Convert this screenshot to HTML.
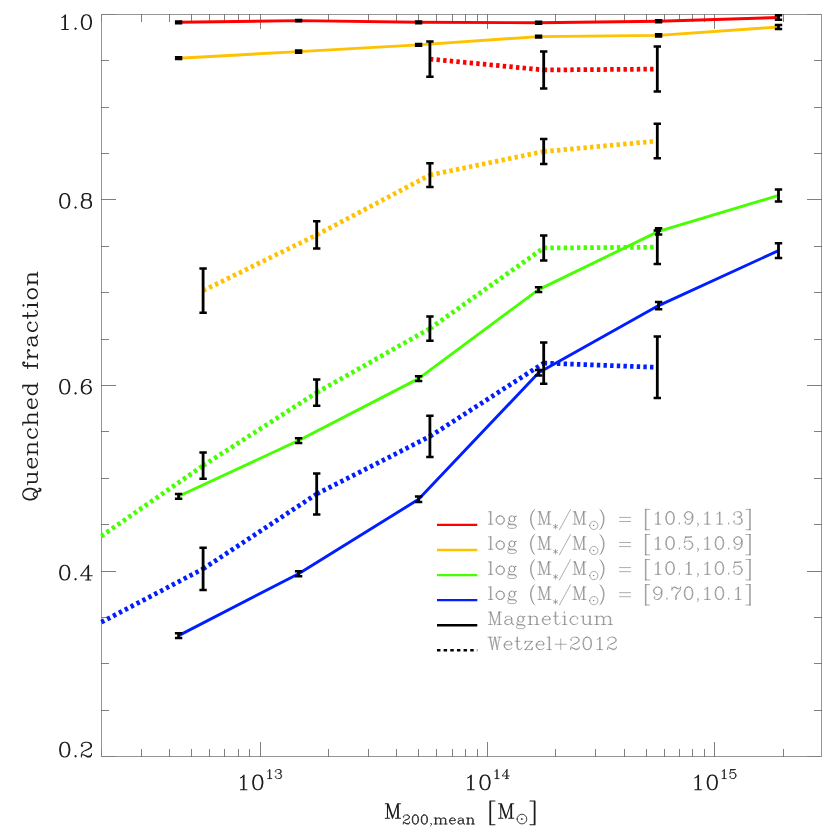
<!DOCTYPE html>
<html><head><meta charset="utf-8"><title>Quenched fraction</title>
<style>html,body{margin:0;padding:0;background:#fff;font-family:"Liberation Sans",sans-serif}svg{display:block}</style></head>
<body>
<svg width="830" height="830" viewBox="0 0 830 830">
<rect width="830" height="830" fill="#fff"/>
<path d="M101.50 14.50 H821.50 V756.50 H101.50 Z" fill="none" stroke="#000" stroke-width="0.42"/>
<path d="M141.50 756.50 v-7.50 M141.50 14.50 v7.50 M169.50 756.50 v-7.50 M169.50 14.50 v7.50 M191.50 756.50 v-7.50 M191.50 14.50 v7.50 M209.50 756.50 v-7.50 M209.50 14.50 v7.50 M224.50 756.50 v-7.50 M224.50 14.50 v7.50 M238.50 756.50 v-7.50 M238.50 14.50 v7.50 M249.50 756.50 v-7.50 M249.50 14.50 v7.50 M260.50 756.50 v-14.50 M260.50 14.50 v14.50 M328.50 756.50 v-7.50 M328.50 14.50 v7.50 M368.50 756.50 v-7.50 M368.50 14.50 v7.50 M396.50 756.50 v-7.50 M396.50 14.50 v7.50 M418.50 756.50 v-7.50 M418.50 14.50 v7.50 M436.50 756.50 v-7.50 M436.50 14.50 v7.50 M452.50 756.50 v-7.50 M452.50 14.50 v7.50 M465.50 756.50 v-7.50 M465.50 14.50 v7.50 M477.50 756.50 v-7.50 M477.50 14.50 v7.50 M487.50 756.50 v-14.50 M487.50 14.50 v14.50 M555.50 756.50 v-7.50 M555.50 14.50 v7.50 M595.50 756.50 v-7.50 M595.50 14.50 v7.50 M624.50 756.50 v-7.50 M624.50 14.50 v7.50 M646.50 756.50 v-7.50 M646.50 14.50 v7.50 M664.50 756.50 v-7.50 M664.50 14.50 v7.50 M679.50 756.50 v-7.50 M679.50 14.50 v7.50 M692.50 756.50 v-7.50 M692.50 14.50 v7.50 M704.50 756.50 v-7.50 M704.50 14.50 v7.50 M714.50 756.50 v-14.50 M714.50 14.50 v14.50 M783.50 756.50 v-7.50 M783.50 14.50 v7.50 M101.50 710.50 h7.50 M821.50 710.50 h-7.50 M101.50 663.50 h7.50 M821.50 663.50 h-7.50 M101.50 617.50 h7.50 M821.50 617.50 h-7.50 M101.50 571.50 h14.50 M821.50 571.50 h-14.50 M101.50 524.50 h7.50 M821.50 524.50 h-7.50 M101.50 478.50 h7.50 M821.50 478.50 h-7.50 M101.50 431.50 h7.50 M821.50 431.50 h-7.50 M101.50 385.50 h14.50 M821.50 385.50 h-14.50 M101.50 339.50 h7.50 M821.50 339.50 h-7.50 M101.50 292.50 h7.50 M821.50 292.50 h-7.50 M101.50 246.50 h7.50 M821.50 246.50 h-7.50 M101.50 199.50 h14.50 M821.50 199.50 h-14.50 M101.50 153.50 h7.50 M821.50 153.50 h-7.50 M101.50 107.50 h7.50 M821.50 107.50 h-7.50 M101.50 60.50 h7.50 M821.50 60.50 h-7.50" fill="none" stroke="#000" stroke-width="0.5"/>
<path d="M101.50 756.50 v-7.50 M101.50 14.50 v7.50 M101.50 756.50 h14.50 M821.50 756.50 h-14.50 M101.50 14.50 h14.50 M821.50 14.50 h-14.50" fill="none" stroke="#000" stroke-width="0.14"/>
<defs><clipPath id="c"><rect x="100.3" y="14.50" width="721.20" height="742.00"/></clipPath></defs>
<g clip-path="url(#c)" fill="none">
<polyline points="178.60,22.30 298.60,20.60 418.60,22.30 538.60,22.70 658.60,21.30 778.50,17.50" stroke="#ff0000" stroke-width="2.9" stroke-linejoin="round"/>
<polyline points="178.60,58.20 298.60,51.60 418.60,44.90 538.60,36.60 658.60,35.40 778.50,27.00" stroke="#ffc200" stroke-width="2.9" stroke-linejoin="round"/>
<polyline points="178.60,496.30 298.60,440.55 418.60,378.60 538.60,289.60 658.60,231.40 778.50,195.45" stroke="#46ff00" stroke-width="2.9" stroke-linejoin="round"/>
<polyline points="178.60,635.60 298.60,573.75 418.60,499.30 538.60,372.80 658.60,305.60 778.50,250.60" stroke="#001eff" stroke-width="2.9" stroke-linejoin="round"/>
<line x1="429.90" y1="59.05" x2="543.70" y2="69.95" stroke="#ff0000" stroke-width="4.75" stroke-dasharray="3.4 3.25"/>
<line x1="543.70" y1="69.95" x2="657.30" y2="69.10" stroke="#ff0000" stroke-width="4.75" stroke-dasharray="3.4 3.25"/>
<line x1="203.10" y1="290.60" x2="316.70" y2="234.90" stroke="#ffc200" stroke-width="4.75" stroke-dasharray="3.4 3.25"/>
<line x1="316.70" y1="234.90" x2="429.90" y2="175.05" stroke="#ffc200" stroke-width="4.75" stroke-dasharray="3.4 3.25"/>
<line x1="429.90" y1="175.05" x2="543.70" y2="151.55" stroke="#ffc200" stroke-width="4.75" stroke-dasharray="3.4 3.25"/>
<line x1="543.70" y1="151.55" x2="657.30" y2="141.05" stroke="#ffc200" stroke-width="4.75" stroke-dasharray="3.4 3.25"/>
<line x1="90.20" y1="543.80" x2="203.10" y2="465.65" stroke="#46ff00" stroke-width="4.75" stroke-dasharray="3.4 3.25"/>
<line x1="203.10" y1="465.65" x2="316.70" y2="392.60" stroke="#46ff00" stroke-width="4.75" stroke-dasharray="3.4 3.25"/>
<line x1="316.70" y1="392.60" x2="429.90" y2="328.55" stroke="#46ff00" stroke-width="4.75" stroke-dasharray="3.4 3.25"/>
<line x1="429.90" y1="328.55" x2="543.70" y2="247.95" stroke="#46ff00" stroke-width="4.75" stroke-dasharray="3.4 3.25"/>
<line x1="543.70" y1="247.95" x2="657.30" y2="247.20" stroke="#46ff00" stroke-width="4.75" stroke-dasharray="3.4 3.25"/>
<line x1="89.50" y1="628.40" x2="203.10" y2="568.85" stroke="#001eff" stroke-width="4.75" stroke-dasharray="3.4 3.25"/>
<line x1="203.10" y1="568.85" x2="316.70" y2="494.00" stroke="#001eff" stroke-width="4.75" stroke-dasharray="3.4 3.25"/>
<line x1="316.70" y1="494.00" x2="429.90" y2="436.40" stroke="#001eff" stroke-width="4.75" stroke-dasharray="3.4 3.25"/>
<line x1="429.90" y1="436.40" x2="543.70" y2="363.10" stroke="#001eff" stroke-width="4.75" stroke-dasharray="3.4 3.25"/>
<line x1="543.70" y1="363.10" x2="657.30" y2="367.30" stroke="#001eff" stroke-width="4.75" stroke-dasharray="3.4 3.25"/>
</g>
<path d="M178.60 21.45 V23.15 M298.60 20.00 V21.20 M418.60 21.45 V23.15 M538.60 21.65 V23.75 M658.60 20.25 V22.35 M778.50 15.30 V19.70 M429.90 41.40 V76.70 M543.70 51.50 V88.40 M657.30 46.60 V91.60 M178.60 57.35 V59.05 M298.60 50.55 V52.65 M418.60 43.95 V45.85 M538.60 35.70 V37.50 M658.60 34.20 V36.60 M778.50 24.90 V29.10 M203.10 268.50 V312.70 M316.70 221.25 V248.55 M429.90 163.20 V186.90 M543.70 139.00 V164.10 M657.30 123.80 V158.30 M178.60 493.95 V498.65 M298.60 438.20 V442.90 M418.60 376.25 V380.95 M538.60 287.30 V291.90 M658.60 228.20 V234.60 M778.50 189.40 V201.50 M203.10 452.60 V478.70 M316.70 379.50 V405.70 M429.90 316.40 V340.70 M543.70 235.40 V260.50 M657.30 230.40 V264.00 M178.60 633.20 V638.00 M298.60 571.30 V576.20 M418.60 496.50 V502.10 M538.60 370.10 V375.50 M658.60 301.90 V309.30 M778.50 243.30 V257.90 M203.10 547.80 V589.90 M316.70 473.60 V514.40 M429.90 415.70 V457.10 M543.70 342.40 V383.80 M657.30 336.60 V398.00" fill="none" stroke="#000" stroke-width="2.8"/>
<path d="M174.90 21.45 h7.4 M174.90 23.15 h7.4 M294.90 20.00 h7.4 M294.90 21.20 h7.4 M414.90 21.45 h7.4 M414.90 23.15 h7.4 M534.90 21.65 h7.4 M534.90 23.75 h7.4 M654.90 20.25 h7.4 M654.90 22.35 h7.4 M774.80 15.30 h7.4 M774.80 19.70 h7.4 M426.20 41.40 h7.4 M426.20 76.70 h7.4 M540.00 51.50 h7.4 M540.00 88.40 h7.4 M653.60 46.60 h7.4 M653.60 91.60 h7.4 M174.90 57.35 h7.4 M174.90 59.05 h7.4 M294.90 50.55 h7.4 M294.90 52.65 h7.4 M414.90 43.95 h7.4 M414.90 45.85 h7.4 M534.90 35.70 h7.4 M534.90 37.50 h7.4 M654.90 34.20 h7.4 M654.90 36.60 h7.4 M774.80 24.90 h7.4 M774.80 29.10 h7.4 M199.40 268.50 h7.4 M199.40 312.70 h7.4 M313.00 221.25 h7.4 M313.00 248.55 h7.4 M426.20 163.20 h7.4 M426.20 186.90 h7.4 M540.00 139.00 h7.4 M540.00 164.10 h7.4 M653.60 123.80 h7.4 M653.60 158.30 h7.4 M174.90 493.95 h7.4 M174.90 498.65 h7.4 M294.90 438.20 h7.4 M294.90 442.90 h7.4 M414.90 376.25 h7.4 M414.90 380.95 h7.4 M534.90 287.30 h7.4 M534.90 291.90 h7.4 M654.90 228.20 h7.4 M654.90 234.60 h7.4 M774.80 189.40 h7.4 M774.80 201.50 h7.4 M199.40 452.60 h7.4 M199.40 478.70 h7.4 M313.00 379.50 h7.4 M313.00 405.70 h7.4 M426.20 316.40 h7.4 M426.20 340.70 h7.4 M540.00 235.40 h7.4 M540.00 260.50 h7.4 M653.60 230.40 h7.4 M653.60 264.00 h7.4 M174.90 633.20 h7.4 M174.90 638.00 h7.4 M294.90 571.30 h7.4 M294.90 576.20 h7.4 M414.90 496.50 h7.4 M414.90 502.10 h7.4 M534.90 370.10 h7.4 M534.90 375.50 h7.4 M654.90 301.90 h7.4 M654.90 309.30 h7.4 M774.80 243.30 h7.4 M774.80 257.90 h7.4 M199.40 547.80 h7.4 M199.40 589.90 h7.4 M313.00 473.60 h7.4 M313.00 514.40 h7.4 M426.20 415.70 h7.4 M426.20 457.10 h7.4 M540.00 342.40 h7.4 M540.00 383.80 h7.4 M653.60 336.60 h7.4 M653.60 398.00 h7.4" fill="none" stroke="#000" stroke-width="2.5"/>
<line x1="437" y1="524.90" x2="477.3" y2="524.90" stroke="#ff0000" stroke-width="2.35"/>
<line x1="437" y1="549.98" x2="477.3" y2="549.98" stroke="#ffc200" stroke-width="2.35"/>
<line x1="437" y1="575.06" x2="477.3" y2="575.06" stroke="#46ff00" stroke-width="2.35"/>
<line x1="437" y1="600.14" x2="477.3" y2="600.14" stroke="#001eff" stroke-width="2.35"/>
<line x1="437" y1="625.22" x2="477.3" y2="625.22" stroke="#000" stroke-width="2.35"/>
<line x1="437" y1="650.30" x2="477.3" y2="650.30" stroke="#000" stroke-width="2.5" stroke-dasharray="3.45 3.2"/>
<path d="M61.84 17.60 L63.28 16.91 L65.45 14.82 L65.45 29.40 M64.73 15.52 L64.73 29.40 M61.84 29.40 L68.34 29.40 M75.57 28.01 L74.85 28.71 L75.57 29.40 L76.30 28.71 L75.57 28.01 M85.70 14.82 L83.53 15.52 L82.08 17.60 L81.36 21.07 L81.36 23.15 L82.08 26.62 L83.53 28.71 L85.70 29.40 L87.14 29.40 L89.31 28.71 L90.76 26.62 L91.48 23.15 L91.48 21.07 L90.76 17.60 L89.31 15.52 L87.14 14.82 L85.70 14.82 M85.70 14.82 L84.25 15.52 L83.53 16.21 L82.80 17.60 L82.08 21.07 L82.08 23.15 L82.80 26.62 L83.53 28.01 L84.25 28.71 L85.70 29.40 M87.14 29.40 L88.59 28.71 L89.31 28.01 L90.03 26.62 L90.76 23.15 L90.76 21.07 L90.03 17.60 L89.31 16.21 L88.59 15.52 L87.14 14.82 M64.01 193.62 L61.84 194.32 L60.39 196.40 L59.67 199.87 L59.67 201.95 L60.39 205.42 L61.84 207.51 L64.01 208.20 L65.45 208.20 L67.62 207.51 L69.07 205.42 L69.79 201.95 L69.79 199.87 L69.07 196.40 L67.62 194.32 L65.45 193.62 L64.01 193.62 M64.01 193.62 L62.56 194.32 L61.84 195.01 L61.12 196.40 L60.39 199.87 L60.39 201.95 L61.12 205.42 L61.84 206.81 L62.56 207.51 L64.01 208.20 M65.45 208.20 L66.90 207.51 L67.62 206.81 L68.34 205.42 L69.07 201.95 L69.07 199.87 L68.34 196.40 L67.62 195.01 L66.90 194.32 L65.45 193.62 M75.57 206.81 L74.85 207.51 L75.57 208.20 L76.30 207.51 L75.57 206.81 M84.97 193.62 L82.80 194.32 L82.08 195.71 L82.08 197.79 L82.80 199.18 L84.97 199.87 L87.87 199.87 L90.03 199.18 L90.76 197.79 L90.76 195.71 L90.03 194.32 L87.87 193.62 L84.97 193.62 M84.97 193.62 L83.53 194.32 L82.80 195.71 L82.80 197.79 L83.53 199.18 L84.97 199.87 M87.87 199.87 L89.31 199.18 L90.03 197.79 L90.03 195.71 L89.31 194.32 L87.87 193.62 M84.97 199.87 L82.80 200.57 L82.08 201.26 L81.36 202.65 L81.36 205.42 L82.08 206.81 L82.80 207.51 L84.97 208.20 L87.87 208.20 L90.03 207.51 L90.76 206.81 L91.48 205.42 L91.48 202.65 L90.76 201.26 L90.03 200.57 L87.87 199.87 M84.97 199.87 L83.53 200.57 L82.80 201.26 L82.08 202.65 L82.08 205.42 L82.80 206.81 L83.53 207.51 L84.97 208.20 M87.87 208.20 L89.31 207.51 L90.03 206.81 L90.76 205.42 L90.76 202.65 L90.03 201.26 L89.31 200.57 L87.87 199.87 M64.01 379.42 L61.84 380.12 L60.39 382.20 L59.67 385.67 L59.67 387.75 L60.39 391.22 L61.84 393.31 L64.01 394.00 L65.45 394.00 L67.62 393.31 L69.07 391.22 L69.79 387.75 L69.79 385.67 L69.07 382.20 L67.62 380.12 L65.45 379.42 L64.01 379.42 M64.01 379.42 L62.56 380.12 L61.84 380.81 L61.12 382.20 L60.39 385.67 L60.39 387.75 L61.12 391.22 L61.84 392.61 L62.56 393.31 L64.01 394.00 M65.45 394.00 L66.90 393.31 L67.62 392.61 L68.34 391.22 L69.07 387.75 L69.07 385.67 L68.34 382.20 L67.62 380.81 L66.90 380.12 L65.45 379.42 M75.57 392.61 L74.85 393.31 L75.57 394.00 L76.30 393.31 L75.57 392.61 M90.03 381.51 L89.31 382.20 L90.03 382.89 L90.76 382.20 L90.76 381.51 L90.03 380.12 L88.59 379.42 L86.42 379.42 L84.25 380.12 L82.80 381.51 L82.08 382.89 L81.36 385.67 L81.36 389.84 L82.08 391.92 L83.53 393.31 L85.70 394.00 L87.14 394.00 L89.31 393.31 L90.76 391.92 L91.48 389.84 L91.48 389.14 L90.76 387.06 L89.31 385.67 L87.14 384.98 L86.42 384.98 L84.25 385.67 L82.80 387.06 L82.08 389.14 M86.42 379.42 L84.97 380.12 L83.53 381.51 L82.80 382.89 L82.08 385.67 L82.08 389.84 L82.80 391.92 L84.25 393.31 L85.70 394.00 M87.14 394.00 L88.59 393.31 L90.03 391.92 L90.76 389.84 L90.76 389.14 L90.03 387.06 L88.59 385.67 L87.14 384.98 M64.01 565.32 L61.84 566.02 L60.39 568.10 L59.67 571.57 L59.67 573.65 L60.39 577.12 L61.84 579.21 L64.01 579.90 L65.45 579.90 L67.62 579.21 L69.07 577.12 L69.79 573.65 L69.79 571.57 L69.07 568.10 L67.62 566.02 L65.45 565.32 L64.01 565.32 M64.01 565.32 L62.56 566.02 L61.84 566.71 L61.12 568.10 L60.39 571.57 L60.39 573.65 L61.12 577.12 L61.84 578.51 L62.56 579.21 L64.01 579.90 M65.45 579.90 L66.90 579.21 L67.62 578.51 L68.34 577.12 L69.07 573.65 L69.07 571.57 L68.34 568.10 L67.62 566.71 L66.90 566.02 L65.45 565.32 M75.57 578.51 L74.85 579.21 L75.57 579.90 L76.30 579.21 L75.57 578.51 M87.87 566.71 L87.87 579.90 M88.59 565.32 L88.59 579.90 M88.59 565.32 L80.64 575.74 L92.20 575.74 M85.70 579.90 L90.76 579.90 M64.01 742.32 L61.84 743.02 L60.39 745.10 L59.67 748.57 L59.67 750.65 L60.39 754.12 L61.84 756.21 L64.01 756.90 L65.45 756.90 L67.62 756.21 L69.07 754.12 L69.79 750.65 L69.79 748.57 L69.07 745.10 L67.62 743.02 L65.45 742.32 L64.01 742.32 M64.01 742.32 L62.56 743.02 L61.84 743.71 L61.12 745.10 L60.39 748.57 L60.39 750.65 L61.12 754.12 L61.84 755.51 L62.56 756.21 L64.01 756.90 M65.45 756.90 L66.90 756.21 L67.62 755.51 L68.34 754.12 L69.07 750.65 L69.07 748.57 L68.34 745.10 L67.62 743.71 L66.90 743.02 L65.45 742.32 M75.57 755.51 L74.85 756.21 L75.57 756.90 L76.30 756.21 L75.57 755.51 M82.08 745.10 L82.80 745.79 L82.08 746.49 L81.36 745.79 L81.36 745.10 L82.08 743.71 L82.80 743.02 L84.97 742.32 L87.87 742.32 L90.03 743.02 L90.76 743.71 L91.48 745.10 L91.48 746.49 L90.76 747.88 L88.59 749.27 L84.97 750.65 L83.53 751.35 L82.08 752.74 L81.36 754.82 L81.36 756.90 M87.87 742.32 L89.31 743.02 L90.03 743.71 L90.76 745.10 L90.76 746.49 L90.03 747.88 L87.87 749.27 L84.97 750.65 M81.36 755.51 L82.08 754.82 L83.53 754.82 L87.14 756.21 L89.31 756.21 L90.76 755.51 L91.48 754.82 M83.53 754.82 L87.14 756.90 L90.03 756.90 L90.76 756.21 L91.48 754.82 L91.48 753.43 M240.44 777.90 L241.88 777.21 L244.05 775.12 L244.05 789.70 M243.33 775.82 L243.33 789.70 M240.44 789.70 L246.94 789.70 M257.07 775.12 L254.90 775.82 L253.45 777.90 L252.73 781.37 L252.73 783.45 L253.45 786.92 L254.90 789.01 L257.07 789.70 L258.51 789.70 L260.68 789.01 L262.13 786.92 L262.85 783.45 L262.85 781.37 L262.13 777.90 L260.68 775.82 L258.51 775.12 L257.07 775.12 M257.07 775.12 L255.62 775.82 L254.90 776.51 L254.17 777.90 L253.45 781.37 L253.45 783.45 L254.17 786.92 L254.90 788.31 L255.62 789.01 L257.07 789.70 M258.51 789.70 L259.96 789.01 L260.68 788.31 L261.40 786.92 L262.13 783.45 L262.13 781.37 L261.40 777.90 L260.68 776.51 L259.96 775.82 L258.51 775.12 M467.69 777.90 L469.13 777.21 L471.30 775.12 L471.30 789.70 M470.58 775.82 L470.58 789.70 M467.69 789.70 L474.19 789.70 M484.32 775.12 L482.15 775.82 L480.70 777.90 L479.98 781.37 L479.98 783.45 L480.70 786.92 L482.15 789.01 L484.32 789.70 L485.76 789.70 L487.93 789.01 L489.38 786.92 L490.10 783.45 L490.10 781.37 L489.38 777.90 L487.93 775.82 L485.76 775.12 L484.32 775.12 M484.32 775.12 L482.87 775.82 L482.15 776.51 L481.42 777.90 L480.70 781.37 L480.70 783.45 L481.42 786.92 L482.15 788.31 L482.87 789.01 L484.32 789.70 M485.76 789.70 L487.21 789.01 L487.93 788.31 L488.65 786.92 L489.38 783.45 L489.38 781.37 L488.65 777.90 L487.93 776.51 L487.21 775.82 L485.76 775.12 M694.94 777.90 L696.38 777.21 L698.55 775.12 L698.55 789.70 M697.83 775.82 L697.83 789.70 M694.94 789.70 L701.45 789.70 M711.57 775.12 L709.40 775.82 L707.95 777.90 L707.23 781.37 L707.23 783.45 L707.95 786.92 L709.40 789.01 L711.57 789.70 L713.01 789.70 L715.18 789.01 L716.63 786.92 L717.35 783.45 L717.35 781.37 L716.63 777.90 L715.18 775.82 L713.01 775.12 L711.57 775.12 M711.57 775.12 L710.12 775.82 L709.40 776.51 L708.68 777.90 L707.95 781.37 L707.95 783.45 L708.68 786.92 L709.40 788.31 L710.12 789.01 L711.57 789.70 M713.01 789.70 L714.46 789.01 L715.18 788.31 L715.91 786.92 L716.63 783.45 L716.63 781.37 L715.91 777.90 L715.18 776.51 L714.46 775.82 L713.01 775.12 M387.47 803.72 L387.47 818.30 M388.19 803.72 L392.53 816.22 M387.47 803.72 L392.53 818.30 M397.59 803.72 L392.53 818.30 M397.59 803.72 L397.59 818.30 M398.31 803.72 L398.31 818.30 M385.30 803.72 L388.19 803.72 M397.59 803.72 L400.48 803.72 M385.30 818.30 L389.63 818.30 M395.42 818.30 L400.48 818.30 M489.90 800.95 L489.90 824.82 M490.62 800.95 L490.62 824.82 M489.90 800.95 L494.96 800.95 M489.90 824.82 L494.96 824.82 M500.74 803.72 L500.74 818.30 M501.47 803.72 L505.81 816.22 M500.74 803.72 L505.81 818.30 M510.87 803.72 L505.81 818.30 M510.87 803.72 L510.87 818.30 M511.59 803.72 L511.59 818.30 M498.58 803.72 L501.47 803.72 M510.87 803.72 L513.76 803.72 M498.58 818.30 L502.91 818.30 M508.70 818.30 L513.76 818.30 M534.26 800.95 L534.26 824.82 M534.99 800.95 L534.99 824.82 M529.92 800.95 L534.99 800.95 M529.92 824.82 L534.99 824.82" fill="none" stroke="#1c1c1c" stroke-width="1.05" stroke-linecap="round" stroke-linejoin="round"/>
<path d="M267.71 771.25 L268.61 770.82 L269.95 769.53 L269.95 778.57 M269.50 769.96 L269.50 778.57 M267.71 778.57 L271.74 778.57 M275.78 771.25 L276.23 771.68 L275.78 772.11 L275.33 771.68 L275.33 771.25 L275.78 770.39 L276.23 769.96 L277.57 769.53 L279.36 769.53 L280.71 769.96 L281.16 770.82 L281.16 772.11 L280.71 772.97 L279.36 773.40 L278.02 773.40 M279.36 769.53 L280.26 769.96 L280.71 770.82 L280.71 772.11 L280.26 772.97 L279.36 773.40 M279.36 773.40 L280.26 773.83 L281.16 774.69 L281.61 775.55 L281.61 776.84 L281.16 777.71 L280.71 778.14 L279.36 778.57 L277.57 778.57 L276.23 778.14 L275.78 777.71 L275.33 776.84 L275.33 776.41 L275.78 775.98 L276.23 776.41 L275.78 776.84 M280.71 774.26 L281.16 775.55 L281.16 776.84 L280.71 777.71 L280.26 778.14 L279.36 778.57 M494.96 771.25 L495.86 770.82 L497.20 769.53 L497.20 778.57 M496.75 769.96 L496.75 778.57 M494.96 778.57 L498.99 778.57 M506.61 770.39 L506.61 778.57 M507.06 769.53 L507.06 778.57 M507.06 769.53 L502.13 775.98 L509.30 775.98 M505.27 778.57 L508.41 778.57 M722.21 771.25 L723.11 770.82 L724.45 769.53 L724.45 778.57 M724.00 769.96 L724.00 778.57 M722.21 778.57 L726.24 778.57 M730.73 769.53 L729.83 773.83 M729.83 773.83 L730.73 772.97 L732.07 772.54 L733.42 772.54 L734.76 772.97 L735.66 773.83 L736.11 775.12 L736.11 775.98 L735.66 777.27 L734.76 778.14 L733.42 778.57 L732.07 778.57 L730.73 778.14 L730.28 777.71 L729.83 776.84 L729.83 776.41 L730.28 775.98 L730.73 776.41 L730.28 776.84 M733.42 772.54 L734.31 772.97 L735.21 773.83 L735.66 775.12 L735.66 775.98 L735.21 777.27 L734.31 778.14 L733.42 778.57 M730.73 769.53 L735.21 769.53 M730.73 769.96 L732.97 769.96 L735.21 769.53 M403.72 816.70 L404.17 817.13 L403.72 817.56 L403.27 817.13 L403.27 816.70 L403.72 815.84 L404.17 815.41 L405.51 814.97 L407.30 814.97 L408.65 815.41 L409.10 815.84 L409.55 816.70 L409.55 817.56 L409.10 818.42 L407.75 819.28 L405.51 820.14 L404.61 820.57 L403.72 821.43 L403.27 822.72 L403.27 824.01 M407.30 814.97 L408.20 815.41 L408.65 815.84 L409.10 816.70 L409.10 817.56 L408.65 818.42 L407.30 819.28 L405.51 820.14 M403.27 823.15 L403.72 822.72 L404.61 822.72 L406.86 823.58 L408.20 823.58 L409.10 823.15 L409.55 822.72 M404.61 822.72 L406.86 824.01 L408.65 824.01 L409.10 823.58 L409.55 822.72 L409.55 821.86 M414.92 814.97 L413.58 815.41 L412.68 816.70 L412.23 818.85 L412.23 820.14 L412.68 822.29 L413.58 823.58 L414.92 824.01 L415.82 824.01 L417.17 823.58 L418.06 822.29 L418.51 820.14 L418.51 818.85 L418.06 816.70 L417.17 815.41 L415.82 814.97 L414.92 814.97 M414.92 814.97 L414.03 815.41 L413.58 815.84 L413.13 816.70 L412.68 818.85 L412.68 820.14 L413.13 822.29 L413.58 823.15 L414.03 823.58 L414.92 824.01 M415.82 824.01 L416.72 823.58 L417.17 823.15 L417.61 822.29 L418.06 820.14 L418.06 818.85 L417.61 816.70 L417.17 815.84 L416.72 815.41 L415.82 814.97 M423.89 814.97 L422.54 815.41 L421.65 816.70 L421.20 818.85 L421.20 820.14 L421.65 822.29 L422.54 823.58 L423.89 824.01 L424.79 824.01 L426.13 823.58 L427.03 822.29 L427.48 820.14 L427.48 818.85 L427.03 816.70 L426.13 815.41 L424.79 814.97 L423.89 814.97 M423.89 814.97 L422.99 815.41 L422.54 815.84 L422.10 816.70 L421.65 818.85 L421.65 820.14 L422.10 822.29 L422.54 823.15 L422.99 823.58 L423.89 824.01 M424.79 824.01 L425.68 823.58 L426.13 823.15 L426.58 822.29 L427.03 820.14 L427.03 818.85 L426.58 816.70 L426.13 815.84 L425.68 815.41 L424.79 814.97 M431.06 824.01 L430.61 823.58 L431.06 823.15 L431.51 823.58 L431.51 824.44 L431.06 825.30 L430.61 825.73 M435.54 817.99 L435.54 824.01 M435.99 817.99 L435.99 824.01 M435.99 819.28 L436.89 818.42 L438.23 817.99 L439.13 817.99 L440.48 818.42 L440.92 819.28 L440.92 824.01 M439.13 817.99 L440.03 818.42 L440.48 819.28 L440.48 824.01 M440.92 819.28 L441.82 818.42 L443.16 817.99 L444.06 817.99 L445.41 818.42 L445.85 819.28 L445.85 824.01 M444.06 817.99 L444.96 818.42 L445.41 819.28 L445.41 824.01 M434.20 817.99 L435.99 817.99 M434.20 824.01 L437.34 824.01 M439.13 824.01 L442.27 824.01 M444.06 824.01 L447.20 824.01 M449.89 820.57 L455.27 820.57 L455.27 819.71 L454.82 818.85 L454.37 818.42 L453.47 817.99 L452.13 817.99 L450.79 818.42 L449.89 819.28 L449.44 820.57 L449.44 821.43 L449.89 822.72 L450.79 823.58 L452.13 824.01 L453.03 824.01 L454.37 823.58 L455.27 822.72 M454.82 820.57 L454.82 819.28 L454.37 818.42 M452.13 817.99 L451.23 818.42 L450.34 819.28 L449.89 820.57 L449.89 821.43 L450.34 822.72 L451.23 823.58 L452.13 824.01 M458.85 818.85 L458.85 819.28 L458.41 819.28 L458.41 818.85 L458.85 818.42 L459.75 817.99 L461.54 817.99 L462.44 818.42 L462.89 818.85 L463.34 819.71 L463.34 822.72 L463.78 823.58 L464.23 824.01 M462.89 818.85 L462.89 822.72 L463.34 823.58 L464.23 824.01 L464.68 824.01 M462.89 819.71 L462.44 820.14 L459.75 820.57 L458.41 821.00 L457.96 821.86 L457.96 822.72 L458.41 823.58 L459.75 824.01 L461.10 824.01 L461.99 823.58 L462.89 822.72 M459.75 820.57 L458.85 821.00 L458.41 821.86 L458.41 822.72 L458.85 823.58 L459.75 824.01 M467.82 817.99 L467.82 824.01 M468.27 817.99 L468.27 824.01 M468.27 819.28 L469.16 818.42 L470.51 817.99 L471.41 817.99 L472.75 818.42 L473.20 819.28 L473.20 824.01 M471.41 817.99 L472.30 818.42 L472.75 819.28 L472.75 824.01 M466.47 817.99 L468.27 817.99 M466.47 824.01 L469.61 824.01 M471.41 824.01 L474.54 824.01 M517.09 819.06 A4.84 4.84 0 1 0 526.77 819.06 A4.84 4.84 0 1 0 517.09 819.06 Z M521.48 819.06 A0.45 0.45 0 1 0 522.38 819.06 A0.45 0.45 0 1 0 521.48 819.06 Z" fill="none" stroke="#1c1c1c" stroke-width="0.85" stroke-linecap="round" stroke-linejoin="round"/>
<path d="M490.38 511.76 L490.38 524.20 M491.00 511.76 L491.00 524.20 M488.53 511.76 L491.00 511.76 M488.53 524.20 L492.85 524.20 M499.64 515.91 L497.79 516.50 L496.56 517.68 L495.94 519.46 L495.94 520.65 L496.56 522.42 L497.79 523.61 L499.64 524.20 L500.87 524.20 L502.72 523.61 L503.96 522.42 L504.58 520.65 L504.58 519.46 L503.96 517.68 L502.72 516.50 L500.87 515.91 L499.64 515.91 M499.64 515.91 L498.41 516.50 L497.17 517.68 L496.56 519.46 L496.56 520.65 L497.17 522.42 L498.41 523.61 L499.64 524.20 M500.87 524.20 L502.11 523.61 L503.34 522.42 L503.96 520.65 L503.96 519.46 L503.34 517.68 L502.11 516.50 L500.87 515.91 M511.36 515.91 L510.13 516.50 L509.51 517.09 L508.89 518.28 L508.89 519.46 L509.51 520.65 L510.13 521.24 L511.36 521.83 L512.60 521.83 L513.83 521.24 L514.45 520.65 L515.06 519.46 L515.06 518.28 L514.45 517.09 L513.83 516.50 L512.60 515.91 L511.36 515.91 M510.13 516.50 L509.51 517.68 L509.51 520.05 L510.13 521.24 M513.83 521.24 L514.45 520.05 L514.45 517.68 L513.83 516.50 M514.45 517.09 L515.06 516.50 L516.30 515.91 L516.30 516.50 L515.06 516.50 M509.51 520.65 L508.89 521.24 L508.28 522.42 L508.28 523.02 L508.89 524.20 L510.75 524.79 L513.83 524.79 L515.68 525.38 L516.30 525.98 M508.28 523.02 L508.89 523.61 L510.75 524.20 L513.83 524.20 L515.68 524.79 L516.30 525.98 L516.30 526.57 L515.68 527.75 L513.83 528.35 L510.13 528.35 L508.28 527.75 L507.66 526.57 L507.66 525.98 L508.28 524.79 L510.13 524.20 M534.81 509.39 L533.57 510.58 L532.34 512.35 L531.11 514.72 L530.49 517.68 L530.49 520.23 L531.11 523.64 L532.34 526.36 L533.57 528.41 L534.81 529.77 M533.57 510.58 L532.34 512.95 L531.72 514.72 L531.11 517.68 L531.11 520.23 L531.72 523.64 L532.34 525.68 L533.57 528.41 M539.75 511.76 L539.75 524.20 M540.36 511.76 L544.06 522.42 M539.75 511.76 L544.06 524.20 M548.38 511.76 L544.06 524.20 M548.38 511.76 L548.38 524.20 M549.00 511.76 L549.00 524.20 M537.89 511.76 L540.36 511.76 M548.38 511.76 L550.85 511.76 M537.89 524.20 L541.60 524.20 M546.53 524.20 L550.85 524.20 M555.53 524.24 L555.53 528.98 M553.47 525.42 L557.58 527.80 M557.58 525.42 L553.47 527.80 M570.55 509.39 L559.44 529.77 M574.86 511.76 L574.86 524.20 M575.48 511.76 L579.18 522.42 M574.86 511.76 L579.18 524.20 M583.50 511.76 L579.18 524.20 M583.50 511.76 L583.50 524.20 M584.12 511.76 L584.12 524.20 M573.01 511.76 L575.48 511.76 M583.50 511.76 L585.97 511.76 M573.01 524.20 L576.72 524.20 M581.65 524.20 L585.97 524.20 M589.65 525.39 A4.13 4.13 0 1 0 597.92 525.39 A4.13 4.13 0 1 0 589.65 525.39 Z M593.40 525.39 A0.38 0.38 0 1 0 594.17 525.39 A0.38 0.38 0 1 0 593.40 525.39 Z M599.77 509.39 L601.00 510.58 L602.23 512.35 L603.47 514.72 L604.09 517.68 L604.09 520.23 L603.47 523.64 L602.23 526.36 L601.00 528.41 L599.77 529.77 M601.00 510.58 L602.23 512.95 L602.85 514.72 L603.47 517.68 L603.47 520.23 L602.85 523.64 L602.23 525.68 L601.00 528.41 M619.49 517.42 L630.59 517.42 M619.49 521.50 L630.59 521.50 M645.40 509.39 L645.40 529.77 M646.02 509.39 L646.02 529.77 M645.40 509.39 L649.72 509.39 M645.40 529.77 L649.72 529.77 M655.27 514.13 L656.51 513.54 L658.36 511.76 L658.36 524.20 M657.74 512.35 L657.74 524.20 M655.27 524.20 L660.83 524.20 M669.46 511.76 L667.61 512.35 L666.38 514.13 L665.76 517.09 L665.76 518.87 L666.38 521.83 L667.61 523.61 L669.46 524.20 L670.70 524.20 L672.55 523.61 L673.78 521.83 L674.40 518.87 L674.40 517.09 L673.78 514.13 L672.55 512.35 L670.70 511.76 L669.46 511.76 M669.46 511.76 L668.23 512.35 L667.61 512.95 L667.00 514.13 L666.38 517.09 L666.38 518.87 L667.00 521.83 L667.61 523.02 L668.23 523.61 L669.46 524.20 M670.70 524.20 L671.93 523.61 L672.55 523.02 L673.17 521.83 L673.78 518.87 L673.78 517.09 L673.17 514.13 L672.55 512.95 L671.93 512.35 L670.70 511.76 M679.34 523.02 L678.72 523.61 L679.34 524.20 L679.95 523.61 L679.34 523.02 M692.29 515.91 L691.68 517.68 L690.44 518.87 L688.59 519.46 L687.97 519.46 L686.12 518.87 L684.89 517.68 L684.27 515.91 L684.27 515.32 L684.89 513.54 L686.12 512.35 L687.97 511.76 L689.21 511.76 L691.06 512.35 L692.29 513.54 L692.91 515.32 L692.91 518.87 L692.29 521.24 L691.68 522.42 L690.44 523.61 L688.59 524.20 L686.74 524.20 L685.51 523.61 L684.89 522.42 L684.89 521.83 L685.51 521.24 L686.12 521.83 L685.51 522.42 M687.97 519.46 L686.74 518.87 L685.51 517.68 L684.89 515.91 L684.89 515.32 L685.51 513.54 L686.74 512.35 L687.97 511.76 M689.21 511.76 L690.44 512.35 L691.68 513.54 L692.29 515.32 L692.29 518.87 L691.68 521.24 L691.06 522.42 L689.82 523.61 L688.59 524.20 M697.85 524.20 L697.23 523.61 L697.85 523.02 L698.46 523.61 L698.46 524.79 L697.85 525.98 L697.23 526.57 M704.63 514.13 L705.87 513.54 L707.72 511.76 L707.72 524.20 M707.10 512.35 L707.10 524.20 M704.63 524.20 L710.19 524.20 M716.97 514.13 L718.21 513.54 L720.06 511.76 L720.06 524.20 M719.44 512.35 L719.44 524.20 M716.97 524.20 L722.53 524.20 M728.70 523.02 L728.08 523.61 L728.70 524.20 L729.31 523.61 L728.70 523.02 M734.25 514.13 L734.87 514.72 L734.25 515.32 L733.63 514.72 L733.63 514.13 L734.25 512.95 L734.87 512.35 L736.72 511.76 L739.18 511.76 L741.04 512.35 L741.65 513.54 L741.65 515.32 L741.04 516.50 L739.18 517.09 L737.33 517.09 M739.18 511.76 L740.42 512.35 L741.04 513.54 L741.04 515.32 L740.42 516.50 L739.18 517.09 M739.18 517.09 L740.42 517.68 L741.65 518.87 L742.27 520.05 L742.27 521.83 L741.65 523.02 L741.04 523.61 L739.18 524.20 L736.72 524.20 L734.87 523.61 L734.25 523.02 L733.63 521.83 L733.63 521.24 L734.25 520.65 L734.87 521.24 L734.25 521.83 M741.04 518.28 L741.65 520.05 L741.65 521.83 L741.04 523.02 L740.42 523.61 L739.18 524.20 M749.67 509.39 L749.67 529.77 M750.29 509.39 L750.29 529.77 M745.97 509.39 L750.29 509.39 M745.97 529.77 L750.29 529.77 M490.38 536.84 L490.38 549.28 M491.00 536.84 L491.00 549.28 M488.53 536.84 L491.00 536.84 M488.53 549.28 L492.85 549.28 M499.64 540.99 L497.79 541.58 L496.56 542.76 L495.94 544.54 L495.94 545.73 L496.56 547.50 L497.79 548.69 L499.64 549.28 L500.87 549.28 L502.72 548.69 L503.96 547.50 L504.58 545.73 L504.58 544.54 L503.96 542.76 L502.72 541.58 L500.87 540.99 L499.64 540.99 M499.64 540.99 L498.41 541.58 L497.17 542.76 L496.56 544.54 L496.56 545.73 L497.17 547.50 L498.41 548.69 L499.64 549.28 M500.87 549.28 L502.11 548.69 L503.34 547.50 L503.96 545.73 L503.96 544.54 L503.34 542.76 L502.11 541.58 L500.87 540.99 M511.36 540.99 L510.13 541.58 L509.51 542.17 L508.89 543.36 L508.89 544.54 L509.51 545.73 L510.13 546.32 L511.36 546.91 L512.60 546.91 L513.83 546.32 L514.45 545.73 L515.06 544.54 L515.06 543.36 L514.45 542.17 L513.83 541.58 L512.60 540.99 L511.36 540.99 M510.13 541.58 L509.51 542.76 L509.51 545.13 L510.13 546.32 M513.83 546.32 L514.45 545.13 L514.45 542.76 L513.83 541.58 M514.45 542.17 L515.06 541.58 L516.30 540.99 L516.30 541.58 L515.06 541.58 M509.51 545.73 L508.89 546.32 L508.28 547.50 L508.28 548.10 L508.89 549.28 L510.75 549.87 L513.83 549.87 L515.68 550.46 L516.30 551.06 M508.28 548.10 L508.89 548.69 L510.75 549.28 L513.83 549.28 L515.68 549.87 L516.30 551.06 L516.30 551.65 L515.68 552.83 L513.83 553.43 L510.13 553.43 L508.28 552.83 L507.66 551.65 L507.66 551.06 L508.28 549.87 L510.13 549.28 M534.81 534.47 L533.57 535.66 L532.34 537.43 L531.11 539.80 L530.49 542.76 L530.49 545.31 L531.11 548.72 L532.34 551.44 L533.57 553.49 L534.81 554.85 M533.57 535.66 L532.34 538.03 L531.72 539.80 L531.11 542.76 L531.11 545.31 L531.72 548.72 L532.34 550.76 L533.57 553.49 M539.75 536.84 L539.75 549.28 M540.36 536.84 L544.06 547.50 M539.75 536.84 L544.06 549.28 M548.38 536.84 L544.06 549.28 M548.38 536.84 L548.38 549.28 M549.00 536.84 L549.00 549.28 M537.89 536.84 L540.36 536.84 M548.38 536.84 L550.85 536.84 M537.89 549.28 L541.60 549.28 M546.53 549.28 L550.85 549.28 M555.53 549.32 L555.53 554.06 M553.47 550.50 L557.58 552.88 M557.58 550.50 L553.47 552.88 M570.55 534.47 L559.44 554.85 M574.86 536.84 L574.86 549.28 M575.48 536.84 L579.18 547.50 M574.86 536.84 L579.18 549.28 M583.50 536.84 L579.18 549.28 M583.50 536.84 L583.50 549.28 M584.12 536.84 L584.12 549.28 M573.01 536.84 L575.48 536.84 M583.50 536.84 L585.97 536.84 M573.01 549.28 L576.72 549.28 M581.65 549.28 L585.97 549.28 M589.65 550.47 A4.13 4.13 0 1 0 597.92 550.47 A4.13 4.13 0 1 0 589.65 550.47 Z M593.40 550.47 A0.38 0.38 0 1 0 594.17 550.47 A0.38 0.38 0 1 0 593.40 550.47 Z M599.77 534.47 L601.00 535.66 L602.23 537.43 L603.47 539.80 L604.09 542.76 L604.09 545.31 L603.47 548.72 L602.23 551.44 L601.00 553.49 L599.77 554.85 M601.00 535.66 L602.23 538.03 L602.85 539.80 L603.47 542.76 L603.47 545.31 L602.85 548.72 L602.23 550.76 L601.00 553.49 M619.49 542.50 L630.59 542.50 M619.49 546.58 L630.59 546.58 M645.40 534.47 L645.40 554.85 M646.02 534.47 L646.02 554.85 M645.40 534.47 L649.72 534.47 M645.40 554.85 L649.72 554.85 M655.27 539.21 L656.51 538.62 L658.36 536.84 L658.36 549.28 M657.74 537.43 L657.74 549.28 M655.27 549.28 L660.83 549.28 M669.46 536.84 L667.61 537.43 L666.38 539.21 L665.76 542.17 L665.76 543.95 L666.38 546.91 L667.61 548.69 L669.46 549.28 L670.70 549.28 L672.55 548.69 L673.78 546.91 L674.40 543.95 L674.40 542.17 L673.78 539.21 L672.55 537.43 L670.70 536.84 L669.46 536.84 M669.46 536.84 L668.23 537.43 L667.61 538.03 L667.00 539.21 L666.38 542.17 L666.38 543.95 L667.00 546.91 L667.61 548.10 L668.23 548.69 L669.46 549.28 M670.70 549.28 L671.93 548.69 L672.55 548.10 L673.17 546.91 L673.78 543.95 L673.78 542.17 L673.17 539.21 L672.55 538.03 L671.93 537.43 L670.70 536.84 M679.34 548.10 L678.72 548.69 L679.34 549.28 L679.95 548.69 L679.34 548.10 M685.51 536.84 L684.27 542.76 M684.27 542.76 L685.51 541.58 L687.36 540.99 L689.21 540.99 L691.06 541.58 L692.29 542.76 L692.91 544.54 L692.91 545.73 L692.29 547.50 L691.06 548.69 L689.21 549.28 L687.36 549.28 L685.51 548.69 L684.89 548.10 L684.27 546.91 L684.27 546.32 L684.89 545.73 L685.51 546.32 L684.89 546.91 M689.21 540.99 L690.44 541.58 L691.68 542.76 L692.29 544.54 L692.29 545.73 L691.68 547.50 L690.44 548.69 L689.21 549.28 M685.51 536.84 L691.68 536.84 M685.51 537.43 L688.59 537.43 L691.68 536.84 M697.85 549.28 L697.23 548.69 L697.85 548.10 L698.46 548.69 L698.46 549.87 L697.85 551.06 L697.23 551.65 M704.63 539.21 L705.87 538.62 L707.72 536.84 L707.72 549.28 M707.10 537.43 L707.10 549.28 M704.63 549.28 L710.19 549.28 M718.82 536.84 L716.97 537.43 L715.74 539.21 L715.12 542.17 L715.12 543.95 L715.74 546.91 L716.97 548.69 L718.82 549.28 L720.06 549.28 L721.91 548.69 L723.14 546.91 L723.76 543.95 L723.76 542.17 L723.14 539.21 L721.91 537.43 L720.06 536.84 L718.82 536.84 M718.82 536.84 L717.59 537.43 L716.97 538.03 L716.36 539.21 L715.74 542.17 L715.74 543.95 L716.36 546.91 L716.97 548.10 L717.59 548.69 L718.82 549.28 M720.06 549.28 L721.29 548.69 L721.91 548.10 L722.53 546.91 L723.14 543.95 L723.14 542.17 L722.53 539.21 L721.91 538.03 L721.29 537.43 L720.06 536.84 M728.70 548.10 L728.08 548.69 L728.70 549.28 L729.31 548.69 L728.70 548.10 M741.65 540.99 L741.04 542.76 L739.80 543.95 L737.95 544.54 L737.33 544.54 L735.48 543.95 L734.25 542.76 L733.63 540.99 L733.63 540.40 L734.25 538.62 L735.48 537.43 L737.33 536.84 L738.57 536.84 L740.42 537.43 L741.65 538.62 L742.27 540.40 L742.27 543.95 L741.65 546.32 L741.04 547.50 L739.80 548.69 L737.95 549.28 L736.10 549.28 L734.87 548.69 L734.25 547.50 L734.25 546.91 L734.87 546.32 L735.48 546.91 L734.87 547.50 M737.33 544.54 L736.10 543.95 L734.87 542.76 L734.25 540.99 L734.25 540.40 L734.87 538.62 L736.10 537.43 L737.33 536.84 M738.57 536.84 L739.80 537.43 L741.04 538.62 L741.65 540.40 L741.65 543.95 L741.04 546.32 L740.42 547.50 L739.18 548.69 L737.95 549.28 M749.67 534.47 L749.67 554.85 M750.29 534.47 L750.29 554.85 M745.97 534.47 L750.29 534.47 M745.97 554.85 L750.29 554.85 M490.38 561.92 L490.38 574.36 M491.00 561.92 L491.00 574.36 M488.53 561.92 L491.00 561.92 M488.53 574.36 L492.85 574.36 M499.64 566.07 L497.79 566.66 L496.56 567.84 L495.94 569.62 L495.94 570.81 L496.56 572.58 L497.79 573.77 L499.64 574.36 L500.87 574.36 L502.72 573.77 L503.96 572.58 L504.58 570.81 L504.58 569.62 L503.96 567.84 L502.72 566.66 L500.87 566.07 L499.64 566.07 M499.64 566.07 L498.41 566.66 L497.17 567.84 L496.56 569.62 L496.56 570.81 L497.17 572.58 L498.41 573.77 L499.64 574.36 M500.87 574.36 L502.11 573.77 L503.34 572.58 L503.96 570.81 L503.96 569.62 L503.34 567.84 L502.11 566.66 L500.87 566.07 M511.36 566.07 L510.13 566.66 L509.51 567.25 L508.89 568.44 L508.89 569.62 L509.51 570.81 L510.13 571.40 L511.36 571.99 L512.60 571.99 L513.83 571.40 L514.45 570.81 L515.06 569.62 L515.06 568.44 L514.45 567.25 L513.83 566.66 L512.60 566.07 L511.36 566.07 M510.13 566.66 L509.51 567.84 L509.51 570.21 L510.13 571.40 M513.83 571.40 L514.45 570.21 L514.45 567.84 L513.83 566.66 M514.45 567.25 L515.06 566.66 L516.30 566.07 L516.30 566.66 L515.06 566.66 M509.51 570.81 L508.89 571.40 L508.28 572.58 L508.28 573.18 L508.89 574.36 L510.75 574.95 L513.83 574.95 L515.68 575.54 L516.30 576.14 M508.28 573.18 L508.89 573.77 L510.75 574.36 L513.83 574.36 L515.68 574.95 L516.30 576.14 L516.30 576.73 L515.68 577.91 L513.83 578.51 L510.13 578.51 L508.28 577.91 L507.66 576.73 L507.66 576.14 L508.28 574.95 L510.13 574.36 M534.81 559.55 L533.57 560.74 L532.34 562.51 L531.11 564.88 L530.49 567.84 L530.49 570.39 L531.11 573.80 L532.34 576.52 L533.57 578.57 L534.81 579.93 M533.57 560.74 L532.34 563.11 L531.72 564.88 L531.11 567.84 L531.11 570.39 L531.72 573.80 L532.34 575.84 L533.57 578.57 M539.75 561.92 L539.75 574.36 M540.36 561.92 L544.06 572.58 M539.75 561.92 L544.06 574.36 M548.38 561.92 L544.06 574.36 M548.38 561.92 L548.38 574.36 M549.00 561.92 L549.00 574.36 M537.89 561.92 L540.36 561.92 M548.38 561.92 L550.85 561.92 M537.89 574.36 L541.60 574.36 M546.53 574.36 L550.85 574.36 M555.53 574.40 L555.53 579.14 M553.47 575.58 L557.58 577.96 M557.58 575.58 L553.47 577.96 M570.55 559.55 L559.44 579.93 M574.86 561.92 L574.86 574.36 M575.48 561.92 L579.18 572.58 M574.86 561.92 L579.18 574.36 M583.50 561.92 L579.18 574.36 M583.50 561.92 L583.50 574.36 M584.12 561.92 L584.12 574.36 M573.01 561.92 L575.48 561.92 M583.50 561.92 L585.97 561.92 M573.01 574.36 L576.72 574.36 M581.65 574.36 L585.97 574.36 M589.65 575.55 A4.13 4.13 0 1 0 597.92 575.55 A4.13 4.13 0 1 0 589.65 575.55 Z M593.40 575.55 A0.38 0.38 0 1 0 594.17 575.55 A0.38 0.38 0 1 0 593.40 575.55 Z M599.77 559.55 L601.00 560.74 L602.23 562.51 L603.47 564.88 L604.09 567.84 L604.09 570.39 L603.47 573.80 L602.23 576.52 L601.00 578.57 L599.77 579.93 M601.00 560.74 L602.23 563.11 L602.85 564.88 L603.47 567.84 L603.47 570.39 L602.85 573.80 L602.23 575.84 L601.00 578.57 M619.49 567.58 L630.59 567.58 M619.49 571.66 L630.59 571.66 M645.40 559.55 L645.40 579.93 M646.02 559.55 L646.02 579.93 M645.40 559.55 L649.72 559.55 M645.40 579.93 L649.72 579.93 M655.27 564.29 L656.51 563.70 L658.36 561.92 L658.36 574.36 M657.74 562.51 L657.74 574.36 M655.27 574.36 L660.83 574.36 M669.46 561.92 L667.61 562.51 L666.38 564.29 L665.76 567.25 L665.76 569.03 L666.38 571.99 L667.61 573.77 L669.46 574.36 L670.70 574.36 L672.55 573.77 L673.78 571.99 L674.40 569.03 L674.40 567.25 L673.78 564.29 L672.55 562.51 L670.70 561.92 L669.46 561.92 M669.46 561.92 L668.23 562.51 L667.61 563.11 L667.00 564.29 L666.38 567.25 L666.38 569.03 L667.00 571.99 L667.61 573.18 L668.23 573.77 L669.46 574.36 M670.70 574.36 L671.93 573.77 L672.55 573.18 L673.17 571.99 L673.78 569.03 L673.78 567.25 L673.17 564.29 L672.55 563.11 L671.93 562.51 L670.70 561.92 M679.34 573.18 L678.72 573.77 L679.34 574.36 L679.95 573.77 L679.34 573.18 M686.12 564.29 L687.36 563.70 L689.21 561.92 L689.21 574.36 M688.59 562.51 L688.59 574.36 M686.12 574.36 L691.68 574.36 M697.85 574.36 L697.23 573.77 L697.85 573.18 L698.46 573.77 L698.46 574.95 L697.85 576.14 L697.23 576.73 M704.63 564.29 L705.87 563.70 L707.72 561.92 L707.72 574.36 M707.10 562.51 L707.10 574.36 M704.63 574.36 L710.19 574.36 M718.82 561.92 L716.97 562.51 L715.74 564.29 L715.12 567.25 L715.12 569.03 L715.74 571.99 L716.97 573.77 L718.82 574.36 L720.06 574.36 L721.91 573.77 L723.14 571.99 L723.76 569.03 L723.76 567.25 L723.14 564.29 L721.91 562.51 L720.06 561.92 L718.82 561.92 M718.82 561.92 L717.59 562.51 L716.97 563.11 L716.36 564.29 L715.74 567.25 L715.74 569.03 L716.36 571.99 L716.97 573.18 L717.59 573.77 L718.82 574.36 M720.06 574.36 L721.29 573.77 L721.91 573.18 L722.53 571.99 L723.14 569.03 L723.14 567.25 L722.53 564.29 L721.91 563.11 L721.29 562.51 L720.06 561.92 M728.70 573.18 L728.08 573.77 L728.70 574.36 L729.31 573.77 L728.70 573.18 M734.87 561.92 L733.63 567.84 M733.63 567.84 L734.87 566.66 L736.72 566.07 L738.57 566.07 L740.42 566.66 L741.65 567.84 L742.27 569.62 L742.27 570.81 L741.65 572.58 L740.42 573.77 L738.57 574.36 L736.72 574.36 L734.87 573.77 L734.25 573.18 L733.63 571.99 L733.63 571.40 L734.25 570.81 L734.87 571.40 L734.25 571.99 M738.57 566.07 L739.80 566.66 L741.04 567.84 L741.65 569.62 L741.65 570.81 L741.04 572.58 L739.80 573.77 L738.57 574.36 M734.87 561.92 L741.04 561.92 M734.87 562.51 L737.95 562.51 L741.04 561.92 M749.67 559.55 L749.67 579.93 M750.29 559.55 L750.29 579.93 M745.97 559.55 L750.29 559.55 M745.97 579.93 L750.29 579.93 M490.38 587.00 L490.38 599.44 M491.00 587.00 L491.00 599.44 M488.53 587.00 L491.00 587.00 M488.53 599.44 L492.85 599.44 M499.64 591.15 L497.79 591.74 L496.56 592.92 L495.94 594.70 L495.94 595.89 L496.56 597.66 L497.79 598.85 L499.64 599.44 L500.87 599.44 L502.72 598.85 L503.96 597.66 L504.58 595.89 L504.58 594.70 L503.96 592.92 L502.72 591.74 L500.87 591.15 L499.64 591.15 M499.64 591.15 L498.41 591.74 L497.17 592.92 L496.56 594.70 L496.56 595.89 L497.17 597.66 L498.41 598.85 L499.64 599.44 M500.87 599.44 L502.11 598.85 L503.34 597.66 L503.96 595.89 L503.96 594.70 L503.34 592.92 L502.11 591.74 L500.87 591.15 M511.36 591.15 L510.13 591.74 L509.51 592.33 L508.89 593.52 L508.89 594.70 L509.51 595.89 L510.13 596.48 L511.36 597.07 L512.60 597.07 L513.83 596.48 L514.45 595.89 L515.06 594.70 L515.06 593.52 L514.45 592.33 L513.83 591.74 L512.60 591.15 L511.36 591.15 M510.13 591.74 L509.51 592.92 L509.51 595.29 L510.13 596.48 M513.83 596.48 L514.45 595.29 L514.45 592.92 L513.83 591.74 M514.45 592.33 L515.06 591.74 L516.30 591.15 L516.30 591.74 L515.06 591.74 M509.51 595.89 L508.89 596.48 L508.28 597.66 L508.28 598.26 L508.89 599.44 L510.75 600.03 L513.83 600.03 L515.68 600.62 L516.30 601.22 M508.28 598.26 L508.89 598.85 L510.75 599.44 L513.83 599.44 L515.68 600.03 L516.30 601.22 L516.30 601.81 L515.68 602.99 L513.83 603.59 L510.13 603.59 L508.28 602.99 L507.66 601.81 L507.66 601.22 L508.28 600.03 L510.13 599.44 M534.81 584.63 L533.57 585.82 L532.34 587.59 L531.11 589.96 L530.49 592.92 L530.49 595.47 L531.11 598.88 L532.34 601.60 L533.57 603.65 L534.81 605.01 M533.57 585.82 L532.34 588.19 L531.72 589.96 L531.11 592.92 L531.11 595.47 L531.72 598.88 L532.34 600.92 L533.57 603.65 M539.75 587.00 L539.75 599.44 M540.36 587.00 L544.06 597.66 M539.75 587.00 L544.06 599.44 M548.38 587.00 L544.06 599.44 M548.38 587.00 L548.38 599.44 M549.00 587.00 L549.00 599.44 M537.89 587.00 L540.36 587.00 M548.38 587.00 L550.85 587.00 M537.89 599.44 L541.60 599.44 M546.53 599.44 L550.85 599.44 M555.53 599.48 L555.53 604.22 M553.47 600.66 L557.58 603.04 M557.58 600.66 L553.47 603.04 M570.55 584.63 L559.44 605.01 M574.86 587.00 L574.86 599.44 M575.48 587.00 L579.18 597.66 M574.86 587.00 L579.18 599.44 M583.50 587.00 L579.18 599.44 M583.50 587.00 L583.50 599.44 M584.12 587.00 L584.12 599.44 M573.01 587.00 L575.48 587.00 M583.50 587.00 L585.97 587.00 M573.01 599.44 L576.72 599.44 M581.65 599.44 L585.97 599.44 M589.65 600.63 A4.13 4.13 0 1 0 597.92 600.63 A4.13 4.13 0 1 0 589.65 600.63 Z M593.40 600.63 A0.38 0.38 0 1 0 594.17 600.63 A0.38 0.38 0 1 0 593.40 600.63 Z M599.77 584.63 L601.00 585.82 L602.23 587.59 L603.47 589.96 L604.09 592.92 L604.09 595.47 L603.47 598.88 L602.23 601.60 L601.00 603.65 L599.77 605.01 M601.00 585.82 L602.23 588.19 L602.85 589.96 L603.47 592.92 L603.47 595.47 L602.85 598.88 L602.23 600.92 L601.00 603.65 M619.49 592.66 L630.59 592.66 M619.49 596.74 L630.59 596.74 M645.40 584.63 L645.40 605.01 M646.02 584.63 L646.02 605.01 M645.40 584.63 L649.72 584.63 M645.40 605.01 L649.72 605.01 M661.44 591.15 L660.83 592.92 L659.59 594.11 L657.74 594.70 L657.12 594.70 L655.27 594.11 L654.04 592.92 L653.42 591.15 L653.42 590.56 L654.04 588.78 L655.27 587.59 L657.12 587.00 L658.36 587.00 L660.21 587.59 L661.44 588.78 L662.06 590.56 L662.06 594.11 L661.44 596.48 L660.83 597.66 L659.59 598.85 L657.74 599.44 L655.89 599.44 L654.66 598.85 L654.04 597.66 L654.04 597.07 L654.66 596.48 L655.27 597.07 L654.66 597.66 M657.12 594.70 L655.89 594.11 L654.66 592.92 L654.04 591.15 L654.04 590.56 L654.66 588.78 L655.89 587.59 L657.12 587.00 M658.36 587.00 L659.59 587.59 L660.83 588.78 L661.44 590.56 L661.44 594.11 L660.83 596.48 L660.21 597.66 L658.97 598.85 L657.74 599.44 M667.00 598.26 L666.38 598.85 L667.00 599.44 L667.61 598.85 L667.00 598.26 M671.93 587.00 L671.93 590.56 M671.93 589.37 L672.55 588.19 L673.78 587.00 L675.02 587.00 L678.10 588.78 L679.34 588.78 L679.95 588.19 L680.57 587.00 M672.55 588.19 L673.78 587.59 L675.02 587.59 L678.10 588.78 M680.57 587.00 L680.57 588.78 L679.95 590.56 L677.48 593.52 L676.87 594.70 L676.25 596.48 L676.25 599.44 M679.95 590.56 L676.87 593.52 L676.25 594.70 L675.63 596.48 L675.63 599.44 M687.97 587.00 L686.12 587.59 L684.89 589.37 L684.27 592.33 L684.27 594.11 L684.89 597.07 L686.12 598.85 L687.97 599.44 L689.21 599.44 L691.06 598.85 L692.29 597.07 L692.91 594.11 L692.91 592.33 L692.29 589.37 L691.06 587.59 L689.21 587.00 L687.97 587.00 M687.97 587.00 L686.74 587.59 L686.12 588.19 L685.51 589.37 L684.89 592.33 L684.89 594.11 L685.51 597.07 L686.12 598.26 L686.74 598.85 L687.97 599.44 M689.21 599.44 L690.44 598.85 L691.06 598.26 L691.68 597.07 L692.29 594.11 L692.29 592.33 L691.68 589.37 L691.06 588.19 L690.44 587.59 L689.21 587.00 M697.85 599.44 L697.23 598.85 L697.85 598.26 L698.46 598.85 L698.46 600.03 L697.85 601.22 L697.23 601.81 M704.63 589.37 L705.87 588.78 L707.72 587.00 L707.72 599.44 M707.10 587.59 L707.10 599.44 M704.63 599.44 L710.19 599.44 M718.82 587.00 L716.97 587.59 L715.74 589.37 L715.12 592.33 L715.12 594.11 L715.74 597.07 L716.97 598.85 L718.82 599.44 L720.06 599.44 L721.91 598.85 L723.14 597.07 L723.76 594.11 L723.76 592.33 L723.14 589.37 L721.91 587.59 L720.06 587.00 L718.82 587.00 M718.82 587.00 L717.59 587.59 L716.97 588.19 L716.36 589.37 L715.74 592.33 L715.74 594.11 L716.36 597.07 L716.97 598.26 L717.59 598.85 L718.82 599.44 M720.06 599.44 L721.29 598.85 L721.91 598.26 L722.53 597.07 L723.14 594.11 L723.14 592.33 L722.53 589.37 L721.91 588.19 L721.29 587.59 L720.06 587.00 M728.70 598.26 L728.08 598.85 L728.70 599.44 L729.31 598.85 L728.70 598.26 M735.48 589.37 L736.72 588.78 L738.57 587.00 L738.57 599.44 M737.95 587.59 L737.95 599.44 M735.48 599.44 L741.04 599.44 M749.67 584.63 L749.67 605.01 M750.29 584.63 L750.29 605.01 M745.97 584.63 L750.29 584.63 M745.97 605.01 L750.29 605.01 M490.38 612.08 L490.38 624.52 M491.00 612.08 L494.70 622.74 M490.38 612.08 L494.70 624.52 M499.02 612.08 L494.70 624.52 M499.02 612.08 L499.02 624.52 M499.64 612.08 L499.64 624.52 M488.53 612.08 L491.00 612.08 M499.02 612.08 L501.49 612.08 M488.53 624.52 L492.24 624.52 M497.17 624.52 L501.49 624.52 M505.81 617.41 L505.81 618.00 L505.19 618.00 L505.19 617.41 L505.81 616.82 L507.04 616.23 L509.51 616.23 L510.75 616.82 L511.36 617.41 L511.98 618.60 L511.98 622.74 L512.60 623.93 L513.21 624.52 M511.36 617.41 L511.36 622.74 L511.98 623.93 L513.21 624.52 L513.83 624.52 M511.36 618.60 L510.75 619.19 L507.04 619.78 L505.19 620.37 L504.58 621.56 L504.58 622.74 L505.19 623.93 L507.04 624.52 L508.90 624.52 L510.13 623.93 L511.36 622.74 M507.04 619.78 L505.81 620.37 L505.19 621.56 L505.19 622.74 L505.81 623.93 L507.04 624.52 M520.00 616.23 L518.77 616.82 L518.15 617.41 L517.53 618.60 L517.53 619.78 L518.15 620.97 L518.77 621.56 L520.00 622.15 L521.24 622.15 L522.47 621.56 L523.09 620.97 L523.70 619.78 L523.70 618.60 L523.09 617.41 L522.47 616.82 L521.24 616.23 L520.00 616.23 M518.77 616.82 L518.15 618.00 L518.15 620.37 L518.77 621.56 M522.47 621.56 L523.09 620.37 L523.09 618.00 L522.47 616.82 M523.09 617.41 L523.70 616.82 L524.94 616.23 L524.94 616.82 L523.70 616.82 M518.15 620.97 L517.53 621.56 L516.92 622.74 L516.92 623.34 L517.53 624.52 L519.38 625.11 L522.47 625.11 L524.32 625.70 L524.94 626.30 M516.92 623.34 L517.53 623.93 L519.38 624.52 L522.47 624.52 L524.32 625.11 L524.94 626.30 L524.94 626.89 L524.32 628.07 L522.47 628.67 L518.77 628.67 L516.92 628.07 L516.30 626.89 L516.30 626.30 L516.92 625.11 L518.77 624.52 M529.87 616.23 L529.87 624.52 M530.49 616.23 L530.49 624.52 M530.49 618.00 L531.72 616.82 L533.58 616.23 L534.81 616.23 L536.66 616.82 L537.28 618.00 L537.28 624.52 M534.81 616.23 L536.04 616.82 L536.66 618.00 L536.66 624.52 M528.02 616.23 L530.49 616.23 M528.02 624.52 L532.34 624.52 M534.81 624.52 L539.13 624.52 M542.83 619.78 L550.23 619.78 L550.23 618.60 L549.62 617.41 L549.00 616.82 L547.77 616.23 L545.91 616.23 L544.06 616.82 L542.83 618.00 L542.21 619.78 L542.21 620.97 L542.83 622.74 L544.06 623.93 L545.91 624.52 L547.15 624.52 L549.00 623.93 L550.23 622.74 M549.62 619.78 L549.62 618.00 L549.00 616.82 M545.91 616.23 L544.68 616.82 L543.45 618.00 L542.83 619.78 L542.83 620.97 L543.45 622.74 L544.68 623.93 L545.91 624.52 M555.17 612.08 L555.17 622.15 L555.79 623.93 L557.02 624.52 L558.25 624.52 L559.49 623.93 L560.11 622.74 M555.79 612.08 L555.79 622.15 L556.40 623.93 L557.02 624.52 M553.32 616.23 L558.25 616.23 M564.42 612.08 L563.81 612.67 L564.42 613.27 L565.04 612.67 L564.42 612.08 M564.42 616.23 L564.42 624.52 M565.04 616.23 L565.04 624.52 M562.57 616.23 L565.04 616.23 M562.57 624.52 L566.89 624.52 M577.38 618.00 L576.76 618.60 L577.38 619.19 L578.00 618.60 L578.00 618.00 L576.76 616.82 L575.53 616.23 L573.68 616.23 L571.83 616.82 L570.59 618.00 L569.98 619.78 L569.98 620.97 L570.59 622.74 L571.83 623.93 L573.68 624.52 L574.91 624.52 L576.76 623.93 L578.00 622.74 M573.68 616.23 L572.45 616.82 L571.21 618.00 L570.59 619.78 L570.59 620.97 L571.21 622.74 L572.45 623.93 L573.68 624.52 M582.93 616.23 L582.93 622.74 L583.55 623.93 L585.40 624.52 L586.64 624.52 L588.49 623.93 L589.72 622.74 M583.55 616.23 L583.55 622.74 L584.17 623.93 L585.40 624.52 M589.72 616.23 L589.72 624.52 M590.34 616.23 L590.34 624.52 M581.08 616.23 L583.55 616.23 M587.87 616.23 L590.34 616.23 M589.72 624.52 L592.19 624.52 M596.51 616.23 L596.51 624.52 M597.13 616.23 L597.13 624.52 M597.13 618.00 L598.36 616.82 L600.21 616.23 L601.44 616.23 L603.30 616.82 L603.91 618.00 L603.91 624.52 M601.44 616.23 L602.68 616.82 L603.30 618.00 L603.30 624.52 M603.91 618.00 L605.15 616.82 L607.00 616.23 L608.23 616.23 L610.08 616.82 L610.70 618.00 L610.70 624.52 M608.23 616.23 L609.47 616.82 L610.08 618.00 L610.08 624.52 M594.66 616.23 L597.13 616.23 M594.66 624.52 L598.98 624.52 M601.44 624.52 L605.76 624.52 M608.23 624.52 L612.55 624.52 M489.77 637.16 L492.24 649.60 M490.38 637.16 L492.24 646.64 M494.70 637.16 L492.24 649.60 M494.70 637.16 L497.17 649.60 M495.32 637.16 L497.17 646.64 M499.64 637.16 L497.17 649.60 M487.92 637.16 L492.24 637.16 M497.79 637.16 L501.49 637.16 M504.58 644.86 L511.98 644.86 L511.98 643.68 L511.36 642.49 L510.75 641.90 L509.51 641.31 L507.66 641.31 L505.81 641.90 L504.58 643.08 L503.96 644.86 L503.96 646.05 L504.58 647.82 L505.81 649.01 L507.66 649.60 L508.89 649.60 L510.75 649.01 L511.98 647.82 M511.36 644.86 L511.36 643.08 L510.75 641.90 M507.66 641.31 L506.43 641.90 L505.19 643.08 L504.58 644.86 L504.58 646.05 L505.19 647.82 L506.43 649.01 L507.66 649.60 M516.92 637.16 L516.92 647.23 L517.53 649.01 L518.77 649.60 L520.00 649.60 L521.24 649.01 L521.85 647.82 M517.53 637.16 L517.53 647.23 L518.15 649.01 L518.77 649.60 M515.07 641.31 L520.00 641.31 M531.72 641.31 L524.94 649.60 M532.34 641.31 L525.55 649.60 M525.55 641.31 L524.94 643.68 L524.94 641.31 L532.34 641.31 M524.94 649.60 L532.34 649.60 L532.34 647.23 L531.72 649.60 M536.66 644.86 L544.06 644.86 L544.06 643.68 L543.45 642.49 L542.83 641.90 L541.60 641.31 L539.75 641.31 L537.89 641.90 L536.66 643.08 L536.04 644.86 L536.04 646.05 L536.66 647.82 L537.89 649.01 L539.75 649.60 L540.98 649.60 L542.83 649.01 L544.06 647.82 M543.45 644.86 L543.45 643.08 L542.83 641.90 M539.75 641.31 L538.51 641.90 L537.28 643.08 L536.66 644.86 L536.66 646.05 L537.28 647.82 L538.51 649.01 L539.75 649.60 M549.00 637.16 L549.00 649.60 M549.62 637.16 L549.62 649.60 M547.15 637.16 L549.62 637.16 M547.15 649.60 L551.47 649.60 M560.72 638.94 L560.72 649.60 M555.17 644.27 L566.28 644.27 M571.21 639.53 L571.83 640.12 L571.21 640.72 L570.60 640.12 L570.60 639.53 L571.21 638.35 L571.83 637.75 L573.68 637.16 L576.15 637.16 L578.00 637.75 L578.62 638.35 L579.23 639.53 L579.23 640.72 L578.62 641.90 L576.76 643.08 L573.68 644.27 L572.45 644.86 L571.21 646.05 L570.60 647.82 L570.60 649.60 M576.15 637.16 L577.38 637.75 L578.00 638.35 L578.62 639.53 L578.62 640.72 L578.00 641.90 L576.15 643.08 L573.68 644.27 M570.60 648.42 L571.21 647.82 L572.45 647.82 L575.53 649.01 L577.38 649.01 L578.62 648.42 L579.23 647.82 M572.45 647.82 L575.53 649.60 L578.00 649.60 L578.62 649.01 L579.23 647.82 L579.23 646.64 M586.64 637.16 L584.79 637.75 L583.55 639.53 L582.94 642.49 L582.94 644.27 L583.55 647.23 L584.79 649.01 L586.64 649.60 L587.87 649.60 L589.72 649.01 L590.96 647.23 L591.57 644.27 L591.57 642.49 L590.96 639.53 L589.72 637.75 L587.87 637.16 L586.64 637.16 M586.64 637.16 L585.40 637.75 L584.79 638.35 L584.17 639.53 L583.55 642.49 L583.55 644.27 L584.17 647.23 L584.79 648.42 L585.40 649.01 L586.64 649.60 M587.87 649.60 L589.11 649.01 L589.72 648.42 L590.34 647.23 L590.96 644.27 L590.96 642.49 L590.34 639.53 L589.72 638.35 L589.11 637.75 L587.87 637.16 M597.13 639.53 L598.36 638.94 L600.21 637.16 L600.21 649.60 M599.59 637.75 L599.59 649.60 M597.13 649.60 L602.68 649.60 M608.23 639.53 L608.85 640.12 L608.23 640.72 L607.62 640.12 L607.62 639.53 L608.23 638.35 L608.85 637.75 L610.70 637.16 L613.17 637.16 L615.02 637.75 L615.64 638.35 L616.25 639.53 L616.25 640.72 L615.64 641.90 L613.79 643.08 L610.70 644.27 L609.47 644.86 L608.23 646.05 L607.62 647.82 L607.62 649.60 M613.17 637.16 L614.40 637.75 L615.02 638.35 L615.64 639.53 L615.64 640.72 L615.02 641.90 L613.17 643.08 L610.70 644.27 M607.62 648.42 L608.23 647.82 L609.47 647.82 L612.55 649.01 L614.40 649.01 L615.64 648.42 L616.25 647.82 M609.47 647.82 L612.55 649.60 L615.02 649.60 L615.64 649.01 L616.25 647.82 L616.25 646.64" fill="none" stroke="#6e6e6e" stroke-width="0.56" stroke-linecap="round" stroke-linejoin="round"/>
<path transform="translate(37.4 502.1) rotate(-90)" d="M7.26 -14.64 L5.08 -13.94 L3.63 -12.55 L2.90 -11.15 L2.18 -8.36 L2.18 -6.27 L2.90 -3.48 L3.63 -2.09 L5.08 -0.70 L7.26 0.00 L8.71 0.00 L10.89 -0.70 L12.34 -2.09 L13.07 -3.48 L13.79 -6.27 L13.79 -8.36 L13.07 -11.15 L12.34 -12.55 L10.89 -13.94 L8.71 -14.64 L7.26 -14.64 M7.26 -14.64 L5.81 -13.94 L4.36 -12.55 L3.63 -11.15 L2.90 -8.36 L2.90 -6.27 L3.63 -3.48 L4.36 -2.09 L5.81 -0.70 L7.26 0.00 M8.71 0.00 L10.16 -0.70 L11.62 -2.09 L12.34 -3.48 L13.07 -6.27 L13.07 -8.36 L12.34 -11.15 L11.62 -12.55 L10.16 -13.94 L8.71 -14.64 M5.08 -1.39 L5.08 -2.09 L5.81 -3.48 L7.26 -4.18 L7.99 -4.18 L9.44 -3.48 L10.16 -2.09 L10.89 2.79 L11.62 3.48 L13.07 3.48 L13.79 2.09 L13.79 1.39 M10.16 -2.09 L10.89 0.70 L11.62 2.09 L12.34 2.79 L13.07 2.79 L13.79 2.09 M19.60 -9.76 L19.60 -2.09 L20.33 -0.70 L22.51 0.00 L23.96 0.00 L26.14 -0.70 L27.59 -2.09 M20.33 -9.76 L20.33 -2.09 L21.05 -0.70 L22.51 0.00 M27.59 -9.76 L27.59 0.00 M28.31 -9.76 L28.31 0.00 M17.42 -9.76 L20.33 -9.76 M25.41 -9.76 L28.31 -9.76 M27.59 0.00 L30.49 0.00 M34.85 -5.58 L43.56 -5.58 L43.56 -6.97 L42.83 -8.36 L42.11 -9.06 L40.66 -9.76 L38.48 -9.76 L36.30 -9.06 L34.85 -7.67 L34.12 -5.58 L34.12 -4.18 L34.85 -2.09 L36.30 -0.70 L38.48 0.00 L39.93 0.00 L42.11 -0.70 L43.56 -2.09 M42.83 -5.58 L42.83 -7.67 L42.11 -9.06 M38.48 -9.76 L37.03 -9.06 L35.57 -7.67 L34.85 -5.58 L34.85 -4.18 L35.57 -2.09 L37.03 -0.70 L38.48 0.00 M49.37 -9.76 L49.37 0.00 M50.09 -9.76 L50.09 0.00 M50.09 -7.67 L51.55 -9.06 L53.72 -9.76 L55.18 -9.76 L57.35 -9.06 L58.08 -7.67 L58.08 0.00 M55.18 -9.76 L56.63 -9.06 L57.35 -7.67 L57.35 0.00 M47.19 -9.76 L50.09 -9.76 M47.19 0.00 L52.27 0.00 M55.18 0.00 L60.26 0.00 M72.60 -7.67 L71.87 -6.97 L72.60 -6.27 L73.33 -6.97 L73.33 -7.67 L71.87 -9.06 L70.42 -9.76 L68.24 -9.76 L66.07 -9.06 L64.61 -7.67 L63.89 -5.58 L63.89 -4.18 L64.61 -2.09 L66.07 -0.70 L68.24 0.00 L69.70 0.00 L71.87 -0.70 L73.33 -2.09 M68.24 -9.76 L66.79 -9.06 L65.34 -7.67 L64.61 -5.58 L64.61 -4.18 L65.34 -2.09 L66.79 -0.70 L68.24 0.00 M79.13 -14.64 L79.13 0.00 M79.86 -14.64 L79.86 0.00 M79.86 -7.67 L81.31 -9.06 L83.49 -9.76 L84.94 -9.76 L87.12 -9.06 L87.85 -7.67 L87.85 0.00 M84.94 -9.76 L86.39 -9.06 L87.12 -7.67 L87.12 0.00 M76.96 -14.64 L79.86 -14.64 M76.96 0.00 L82.04 0.00 M84.94 0.00 L90.02 0.00 M94.38 -5.58 L103.09 -5.58 L103.09 -6.97 L102.37 -8.36 L101.64 -9.06 L100.19 -9.76 L98.01 -9.76 L95.83 -9.06 L94.38 -7.67 L93.65 -5.58 L93.65 -4.18 L94.38 -2.09 L95.83 -0.70 L98.01 0.00 L99.46 0.00 L101.64 -0.70 L103.09 -2.09 M102.37 -5.58 L102.37 -7.67 L101.64 -9.06 M98.01 -9.76 L96.56 -9.06 L95.11 -7.67 L94.38 -5.58 L94.38 -4.18 L95.11 -2.09 L96.56 -0.70 L98.01 0.00 M116.16 -14.64 L116.16 0.00 M116.89 -14.64 L116.89 0.00 M116.16 -7.67 L114.71 -9.06 L113.26 -9.76 L111.80 -9.76 L109.63 -9.06 L108.17 -7.67 L107.45 -5.58 L107.45 -4.18 L108.17 -2.09 L109.63 -0.70 L111.80 0.00 L113.26 0.00 L114.71 -0.70 L116.16 -2.09 M111.80 -9.76 L110.35 -9.06 L108.90 -7.67 L108.17 -5.58 L108.17 -4.18 L108.90 -2.09 L110.35 -0.70 L111.80 0.00 M113.98 -14.64 L116.89 -14.64 M116.16 0.00 L119.06 0.00 M139.39 -13.94 L138.67 -13.24 L139.39 -12.55 L140.12 -13.24 L140.12 -13.94 L139.39 -14.64 L137.94 -14.64 L136.49 -13.94 L135.76 -12.55 L135.76 0.00 M137.94 -14.64 L137.21 -13.94 L136.49 -12.55 L136.49 0.00 M133.58 -9.76 L139.39 -9.76 M133.58 0.00 L138.67 0.00 M145.20 -9.76 L145.20 0.00 M145.93 -9.76 L145.93 0.00 M145.93 -5.58 L146.65 -7.67 L148.10 -9.06 L149.56 -9.76 L151.73 -9.76 L152.46 -9.06 L152.46 -8.36 L151.73 -7.67 L151.01 -8.36 L151.73 -9.06 M143.02 -9.76 L145.93 -9.76 M143.02 0.00 L148.10 0.00 M157.54 -8.36 L157.54 -7.67 L156.82 -7.67 L156.82 -8.36 L157.54 -9.06 L158.99 -9.76 L161.90 -9.76 L163.35 -9.06 L164.08 -8.36 L164.80 -6.97 L164.80 -2.09 L165.53 -0.70 L166.25 0.00 M164.08 -8.36 L164.08 -2.09 L164.80 -0.70 L166.25 0.00 L166.98 0.00 M164.08 -6.97 L163.35 -6.27 L158.99 -5.58 L156.82 -4.88 L156.09 -3.48 L156.09 -2.09 L156.82 -0.70 L158.99 0.00 L161.17 0.00 L162.62 -0.70 L164.08 -2.09 M158.99 -5.58 L157.54 -4.88 L156.82 -3.48 L156.82 -2.09 L157.54 -0.70 L158.99 0.00 M179.32 -7.67 L178.60 -6.97 L179.32 -6.27 L180.05 -6.97 L180.05 -7.67 L178.60 -9.06 L177.14 -9.76 L174.97 -9.76 L172.79 -9.06 L171.34 -7.67 L170.61 -5.58 L170.61 -4.18 L171.34 -2.09 L172.79 -0.70 L174.97 0.00 L176.42 0.00 L178.60 -0.70 L180.05 -2.09 M174.97 -9.76 L173.51 -9.06 L172.06 -7.67 L171.34 -5.58 L171.34 -4.18 L172.06 -2.09 L173.51 -0.70 L174.97 0.00 M185.86 -14.64 L185.86 -2.79 L186.58 -0.70 L188.03 0.00 L189.49 0.00 L190.94 -0.70 L191.66 -2.09 M186.58 -14.64 L186.58 -2.79 L187.31 -0.70 L188.03 0.00 M183.68 -9.76 L189.49 -9.76 M196.75 -14.64 L196.02 -13.94 L196.75 -13.24 L197.47 -13.94 L196.75 -14.64 M196.75 -9.76 L196.75 0.00 M197.47 -9.76 L197.47 0.00 M194.57 -9.76 L197.47 -9.76 M194.57 0.00 L199.65 0.00 M207.64 -9.76 L205.46 -9.06 L204.01 -7.67 L203.28 -5.58 L203.28 -4.18 L204.01 -2.09 L205.46 -0.70 L207.64 0.00 L209.09 0.00 L211.27 -0.70 L212.72 -2.09 L213.44 -4.18 L213.44 -5.58 L212.72 -7.67 L211.27 -9.06 L209.09 -9.76 L207.64 -9.76 M207.64 -9.76 L206.18 -9.06 L204.73 -7.67 L204.01 -5.58 L204.01 -4.18 L204.73 -2.09 L206.18 -0.70 L207.64 0.00 M209.09 0.00 L210.54 -0.70 L211.99 -2.09 L212.72 -4.18 L212.72 -5.58 L211.99 -7.67 L210.54 -9.06 L209.09 -9.76 M219.25 -9.76 L219.25 0.00 M219.98 -9.76 L219.98 0.00 M219.98 -7.67 L221.43 -9.06 L223.61 -9.76 L225.06 -9.76 L227.24 -9.06 L227.96 -7.67 L227.96 0.00 M225.06 -9.76 L226.51 -9.06 L227.24 -7.67 L227.24 0.00 M217.07 -9.76 L219.98 -9.76 M217.07 0.00 L222.16 0.00 M225.06 0.00 L230.14 0.00" fill="none" stroke="#1c1c1c" stroke-width="1.05" stroke-linecap="round" stroke-linejoin="round"/>
</svg>
</body></html>
